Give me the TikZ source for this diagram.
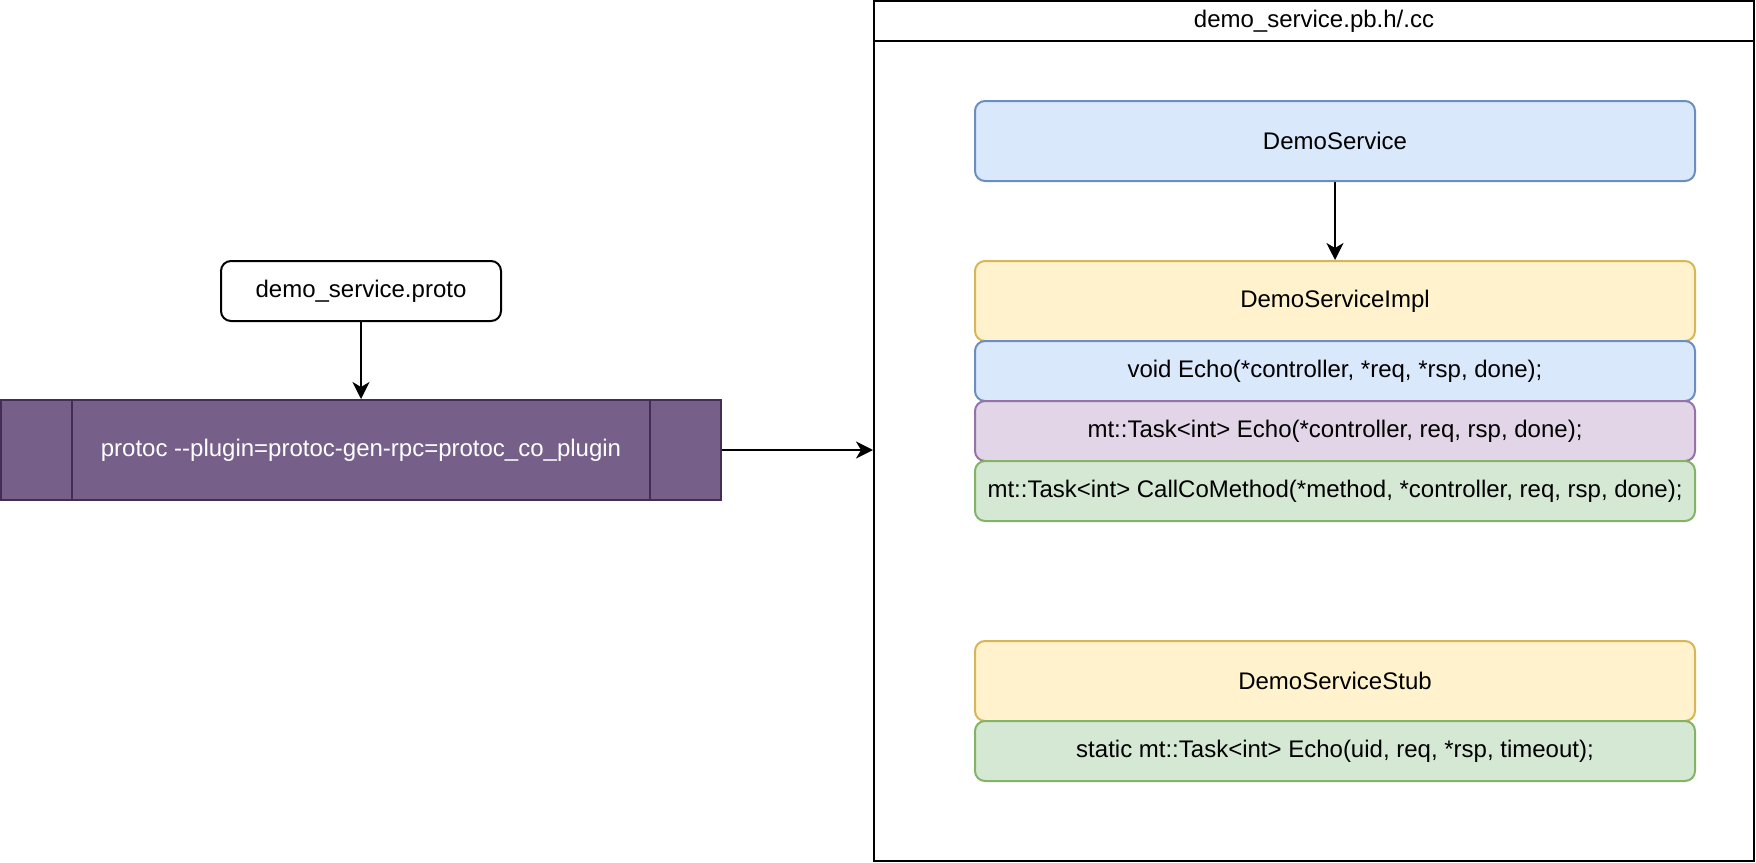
\documentclass[tikz,border=0pt]{standalone}
\usepackage{fontspec}
\setmainfont{Liberation Sans}
\usetikzlibrary{arrows.meta}

\definecolor{blueFill}{HTML}{DAE8FC}
\definecolor{blueLine}{HTML}{6C8EBF}
\definecolor{yellowFill}{HTML}{FFF2CC}
\definecolor{yellowLine}{HTML}{D6B656}
\definecolor{lilacFill}{HTML}{E1D5E7}
\definecolor{lilacLine}{HTML}{9673A6}
\definecolor{greenFill}{HTML}{D5E8D4}
\definecolor{greenLine}{HTML}{82B366}
\definecolor{plumFill}{HTML}{76608A}
\definecolor{plumLine}{HTML}{432D57}

\tikzset{
  box/.style = {rectangle, rounded corners=5pt, line width=1pt, inner sep=0pt,
    minimum width=360pt, align=center, font=\fontsize{12}{14}\selectfont},
  bluebox/.style = {box, draw=blueLine, fill=blueFill},
  yellowbox/.style = {box, draw=yellowLine, fill=yellowFill},
  lilacbox/.style = {box, draw=lilacLine, fill=lilacFill},
  greenbox/.style = {box, draw=greenLine, fill=greenFill},
  arr/.style = {line width=1pt, -{Stealth[length=8.5pt, width=8.5pt, inset=2.5pt]}}
}

\begin{document}
\begin{tikzpicture}[x=0.5pt, y=-0.5pt]
  \useasboundingbox (0,0) rectangle (1756,862);

  % input file and generator
  \node[box, draw=black, fill=white, minimum width=140pt, minimum height=30pt] (proto) at (361,291) {demo\_service.proto};
  \node[rectangle, draw=plumLine, fill=plumFill, line width=1pt, minimum width=360pt, minimum height=50pt,
        text=white, font=\fontsize{12}{14}\selectfont] (protoc) at (361,450) {protoc -{}-plugin=protoc-gen-rpc=protoc\_co\_plugin};
  \draw[plumLine, line width=1pt] ([xshift=36pt]protoc.north west) -- ([xshift=36pt]protoc.south west);
  \draw[plumLine, line width=1pt] ([xshift=-36pt]protoc.north east) -- ([xshift=-36pt]protoc.south east);

  % generated file
  \node[rectangle, draw=black, line width=1pt, minimum width=440pt, minimum height=430pt] (pbfile) at (1314,431) {};
  \node[rectangle, draw=black, line width=1pt, minimum width=440pt, minimum height=20pt,
        font=\fontsize{12}{14}\selectfont] (pbtitle) at (1314,21) {demo\_service.pb.h/.cc};

  \node[bluebox, minimum height=40pt] (demosvc) at (1335,141) {DemoService};
  \node[yellowbox, minimum height=40pt] (impl) at (1335,301) {DemoServiceImpl};
  \foreach \y/\n/\s/\t in {
      371/echo/bluebox/{void Echo(*controller, *req, *rsp, done);},
      431/coecho/lilacbox/{mt::Task<int> Echo(*controller, req, rsp, done);},
      491/callco/greenbox/{mt::Task<int> CallCoMethod(*method, *controller, req, rsp, done);}} {
    \node[\s, minimum height=30pt] (\n) at (1335,\y) {\t};
  }
  \node[yellowbox, minimum height=40pt] (stub) at (1335,681) {DemoServiceStub};
  \node[greenbox, minimum height=30pt] (stubecho) at (1335,751) {static mt::Task<int> Echo(uid, req, *rsp, timeout);};

  % connectors
  \draw[arr] (proto) -- (protoc);
  \draw[arr] (protoc.east) -- (protoc.east -| pbfile.west);
  \draw[arr] (demosvc) -- (impl);
\end{tikzpicture}
\end{document}
